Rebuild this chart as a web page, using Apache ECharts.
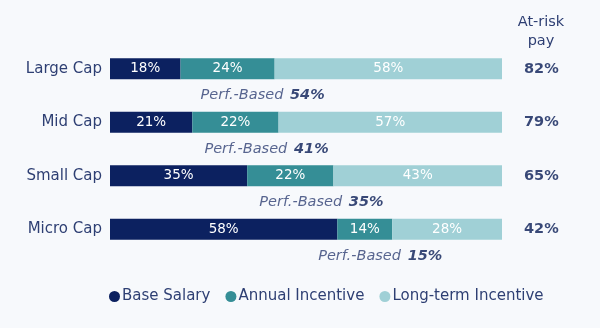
<!DOCTYPE html>
<html>
<head>
<meta charset="utf-8">
<script src="https://cdn.jsdelivr.net/npm/echarts@6/dist/echarts.min.js"></script>
<style>
  html, body { margin: 0; padding: 0; background: #f7f9fc; }
  #chart { width: 600px; height: 328px; }
</style>
</head>
<body>
<div id="chart"></div>
<script>
// Pay mix by company size
const categories = ['Large Cap', 'Mid Cap', 'Small Cap', 'Micro Cap'];
const baseSalary = [18, 21, 35, 58];
const annualIncentive = [24, 22, 22, 14];
const longTermIncentive = [58, 57, 43, 28];
const perfBased = [54, 41, 35, 15];
const atRiskPay = [82, 79, 65, 42];
const seriesNames = ['Base Salary', 'Annual Incentive', 'Long-term Incentive'];

const FONT = '"DejaVu Sans", sans-serif';
const NAVY = '#0c2160';
const TEXT = '#2e3f73';

const chart = echarts.init(document.getElementById('chart'), null, { renderer: 'canvas' });

const barLabel = {
  show: true,
  position: 'inside',
  color: '#ffffff',
  fontFamily: FONT,
  fontSize: 13.5,
  formatter: p => p.value + '%'
};

chart.setOption({
  backgroundColor: '#f7f9fc',
  animation: false,
  grid: { left: 110, right: 98, top: 42, height: 214 },
  xAxis: { type: 'value', min: 0, max: 100, show: false },
  yAxis: {
    type: 'category',
    data: categories,
    inverse: true,
    axisLine: { show: false },
    axisTick: { show: false },
    axisLabel: { color: TEXT, fontFamily: FONT, fontSize: 15, margin: 8 }
  },
  legend: {
    left: 104,
    bottom: 19,
    icon: 'circle',
    itemWidth: 11,
    itemHeight: 11,
    itemGap: 15,
    textStyle: { color: TEXT, fontFamily: FONT, fontSize: 15, padding: [0, 0, 0, -3] },
    data: seriesNames
  },
  graphic: [{
    type: 'text',
    x: 541,
    y: 13,
    style: {
      text: 'At-risk\npay',
      fill: TEXT,
      font: '14.5px ' + FONT,
      align: 'center',
      verticalAlign: 'top',
      lineHeight: 19
    }
  }],
  series: [
    {
      name: seriesNames[0], type: 'bar', stack: 'pay', barWidth: 21,
      itemStyle: { color: NAVY },
      label: barLabel,
      data: baseSalary
    },
    {
      name: seriesNames[1], type: 'bar', stack: 'pay', barWidth: 21,
      itemStyle: { color: '#358e96' },
      label: barLabel,
      data: annualIncentive
    },
    {
      name: seriesNames[2], type: 'bar', stack: 'pay', barWidth: 21,
      itemStyle: { color: '#a0d0d6' },
      label: barLabel,
      data: longTermIncentive
    },
    {
      // at-risk total, to the right of each bar
      type: 'scatter', symbolSize: 0, silent: true,
      data: atRiskPay.map((v, i) => [100, i, v]),
      label: {
        show: true, position: 'right', distance: 22,
        formatter: p => p.value[2] + '%',
        color: '#081b55', fontFamily: FONT, fontSize: 14.5, fontWeight: 'bold'
      }
    },
    {
      // performance-based share, under the incentive segment
      type: 'scatter', symbolSize: 0, silent: true,
      data: perfBased.map((v, i) => [baseSalary[i] + annualIncentive[i], i, v]),
      label: {
        show: true, position: 'inside', offset: [-12, 26.5],
        formatter: p => '{i|Perf.-Based}  {b|' + p.value[2] + '%}',
        rich: {
          i: { color: TEXT, fontFamily: FONT, fontSize: 14.5, fontStyle: 'italic' },
          b: { color: '#081b55', fontFamily: FONT, fontSize: 14.5, fontStyle: 'italic', fontWeight: 'bold' }
        }
      }
    }
  ]
});
</script>
</body>
</html>
